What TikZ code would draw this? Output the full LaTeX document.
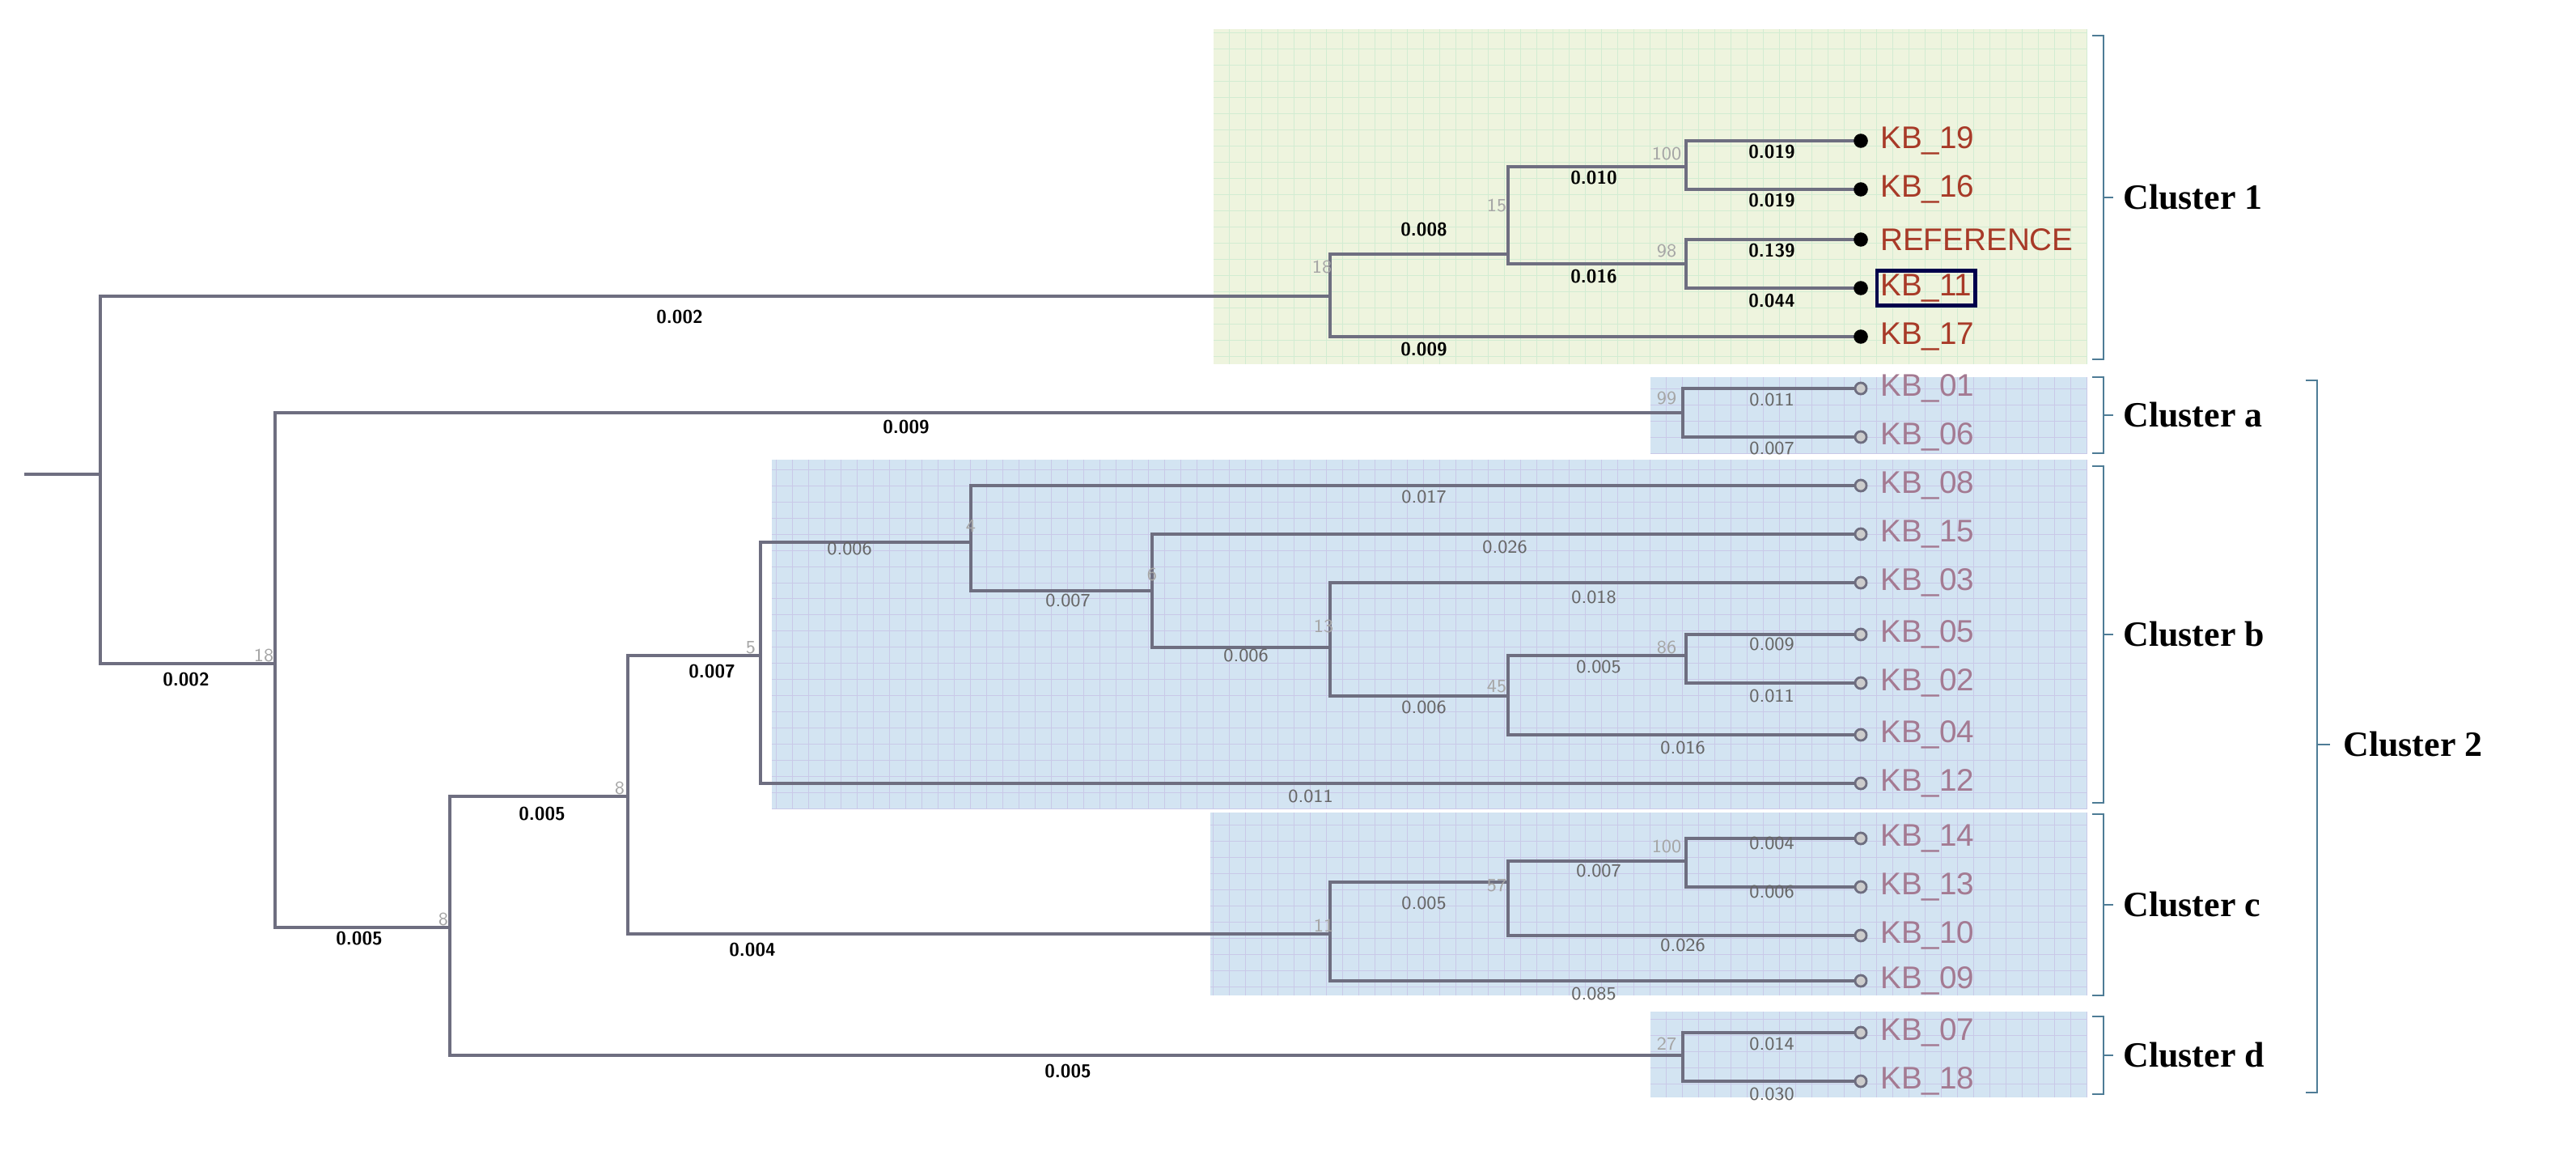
\documentclass[tikz,border=0pt]{standalone}
\usepackage{fontspec}
\setmainfont{Liberation Serif}
\newfontfamily\leaffont{Liberation Sans}
\usepackage{tikz}
\definecolor{edgegray}{HTML}{6E6E80}
\definecolor{greenbox}{HTML}{EEF4DE}
\definecolor{bluebox}{HTML}{D3E4F2}
\definecolor{leafred}{HTML}{A83A28}
\definecolor{leafmauve}{HTML}{A47A92}
\definecolor{bracketblue}{HTML}{4E7C96}
\newcommand{\leaftext}[1]{\expandafter\detokenize\expandafter{#1}}
\tikzset{
  edge/.style={draw=edgegray,line width=0.9pt},
  leaf/.style={anchor=west,font=\leaffont\fontsize{11}{11}\selectfont,inner sep=1pt},
  blen/.style={font=\sffamily\bfseries\fontsize{6.5}{6.5}\selectfont,text=black},
  boot/.style={font=\sffamily\fontsize{6.5}{6.5}\selectfont,text=gray!70},
  clname/.style={anchor=west,font=\bfseries\fontsize{12.5}{12.5}\selectfont},
  brk/.style={draw=bracketblue,line width=0.8pt},
}
\begin{document}
\begin{tikzpicture}[x=0.02cm,y=-0.02cm]
\useasboundingbox (0,0) rectangle (1592,710);

% boxes
\fill[greenbox] (750,18) rectangle (1290,225);
\draw[green!40!gray!25,line width=0.2pt,step=0.2cm] (750,18) grid (1290,225);
\foreach \xa/\ya/\xb/\yb in {1020/233/1290/280,477/284/1290/500,748/502/1290/615,1020/625/1290/678}{
  \fill[bluebox] (\xa,\ya) rectangle (\xb,\yb);
  \draw[blue!40!gray!30,line width=0.2pt,step=0.2cm] (\xa,\ya) grid (\xb,\yb);
}

% inner nodes
\coordinate (start) at (15,293);
\coordinate (root) at (62,293);
\coordinate (c1) at (822,183);
\coordinate (u15) at (932,157);
\coordinate (u100) at (1042,103);
\coordinate (u98) at (1042,163);
\coordinate (c2) at (170,410);
\coordinate (ca) at (1040,255);
\coordinate (g8a) at (278,573);
\coordinate (g8b) at (388,492);
\coordinate (cb) at (470,405);
\coordinate (b4) at (600,335);
\coordinate (b6) at (712,365);
\coordinate (b13) at (822,400);
\coordinate (b45) at (932,430);
\coordinate (b86) at (1042,405);
\coordinate (cc) at (822,577);
\coordinate (c57) at (932,545);
\coordinate (c100) at (1042,532);
\coordinate (cd) at (1040,652);

% leaves
\foreach \name/\y in {KB_19/87,KB_16/117,REFERENCE/148,KB_11/178,KB_17/208}{
  \coordinate (\name) at (1150,\y);
  \node[leaf,text=leafred] (t\name) at (1160,\y) {\leaftext{\name}};
}
\foreach \name/\y in {KB_01/240,KB_06/270,KB_08/300,KB_15/330,KB_03/360,KB_05/392,KB_02/422,KB_04/454,KB_12/484,KB_14/518,KB_13/548,KB_10/578,KB_09/606,KB_07/638,KB_18/668}{
  \coordinate (\name) at (1150,\y);
  \node[leaf,text=leafmauve] (t\name) at (1160,\y) {\leaftext{\name}};
}
\draw[draw=black!70!blue,line width=1.4pt] (tKB_11.south west) rectangle (tKB_11.north east);

% edges
\draw[edge] (start)--(root);
\draw[edge] (root) |- (c1);
\draw[edge] (root) |- (c2);
\draw[edge] (c1) |- (u15);
\draw[edge] (c1) |- (KB_17);
\draw[edge] (u15) |- (u100);
\draw[edge] (u15) |- (u98);
\draw[edge] (u100) |- (KB_19);
\draw[edge] (u100) |- (KB_16);
\draw[edge] (u98) |- (REFERENCE);
\draw[edge] (u98) |- (KB_11);
\draw[edge] (c2) |- (ca);
\draw[edge] (c2) |- (g8a);
\draw[edge] (ca) |- (KB_01);
\draw[edge] (ca) |- (KB_06);
\draw[edge] (g8a) |- (g8b);
\draw[edge] (g8a) |- (cd);
\draw[edge] (g8b) |- (cb);
\draw[edge] (g8b) |- (cc);
\draw[edge] (cb) |- (b4);
\draw[edge] (cb) |- (KB_12);
\draw[edge] (b4) |- (KB_08);
\draw[edge] (b4) |- (b6);
\draw[edge] (b6) |- (KB_15);
\draw[edge] (b6) |- (b13);
\draw[edge] (b13) |- (KB_03);
\draw[edge] (b13) |- (b45);
\draw[edge] (b45) |- (b86);
\draw[edge] (b45) |- (KB_04);
\draw[edge] (b86) |- (KB_05);
\draw[edge] (b86) |- (KB_02);
\draw[edge] (cc) |- (c57);
\draw[edge] (cc) |- (KB_09);
\draw[edge] (c57) |- (c100);
\draw[edge] (c57) |- (KB_10);
\draw[edge] (c100) |- (KB_14);
\draw[edge] (c100) |- (KB_13);
\draw[edge] (cd) |- (KB_07);
\draw[edge] (cd) |- (KB_18);

\foreach \point in {KB_19,KB_16,REFERENCE,KB_11,KB_17}
\fill[black] (\point) circle (2.5pt);
\foreach \point in {KB_01,KB_06,KB_08,KB_15,KB_03,KB_05,KB_02,KB_04,KB_12,KB_14,KB_13,KB_10,KB_09,KB_07,KB_18}
\draw[fill=gray!40,draw=edgegray,line width=0.8pt] (\point) circle (2pt);

% branch lengths
\foreach \x/\y/\t in {420/196/0.002,115/420/0.002,560/264/0.009,222/580/0.005,335/503/0.005,660/662/0.005,
  440/415/0.007,465/587/0.004,880/142/0.008,985/110/0.010,985/171/0.016,880/216/0.009,
  1095/94/0.019,1095/124/0.019,1095/155/0.139,1095/186/0.044}
  \node[blen] at (\x,\y) {\t};
\foreach \x/\y/\t in {525/339/0.006,880/307/0.017,660/371/0.007,930/338/0.026,770/405/0.006,
  985/369/0.018,880/437/0.006,988/412/0.005,1040/462/0.016,1095/398/0.009,1095/430/0.011,
  810/492/0.011,880/558/0.005,988/538/0.007,1040/584/0.026,985/614/0.085,1095/521/0.004,
  1095/551/0.006,1095/247/0.011,1095/277/0.007,1095/645/0.014,1095/676/0.030}
  \node[blen,font=\sffamily\fontsize{6.5}{6.5}\selectfont,text=gray!80!black] at (\x,\y) {\t};

% bootstrap values
\foreach \x/\y/\t in {1030/95/100,1030/155/98,925/127/15,817/165/18,1030/246/99,600/325/4,712/355/6,
  818/387/13,925/424/45,1030/400/86,464/400/5,383/487/8,274/568/8,163/405/18,818/572/11,
  925/547/57,1030/523/100,1030/645/27}
  \node[boot] at (\x,\y) {\t};

% cluster brackets
\foreach \ya/\yb/\name in {22/222/Cluster 1,233/280/Cluster a,288/496/Cluster b,503/615/Cluster c,628/676/Cluster d}{
  \draw[brk] (1293,\ya) -- (1300,\ya) -- (1300,\yb) -- (1293,\yb);
  \draw[brk] (1300,{(\ya+\yb)/2}) -- (1306,{(\ya+\yb)/2});
  \node[clname] at (1306,{(\ya+\yb)/2}) {\name};
}
\draw[brk] (1425,235) -- (1432,235) -- (1432,675) -- (1425,675);
\draw[brk] (1432,460) -- (1440,460);
\node[clname] at (1442,460) {Cluster 2};
\end{tikzpicture}
\end{document}
